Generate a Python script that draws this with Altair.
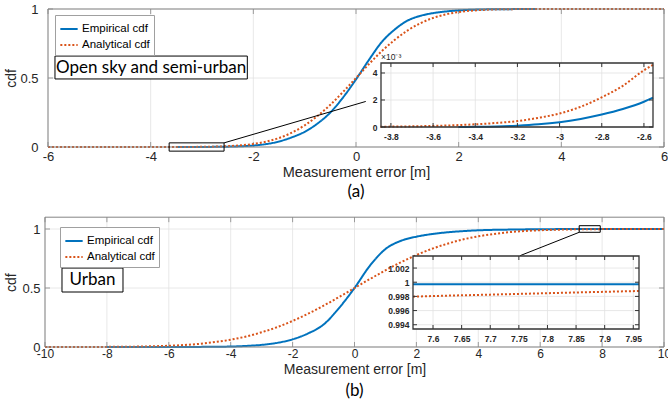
import altair as alt
import pandas as pd

SERIES = ["Empirical cdf", "Analytical cdf"]

# ---------------- (a) Open sky and semi-urban ----------------
a_emp_x = [-3.48, -3.3, -3.2, -3.0, -2.8, -2.6, -2.4, -2.2, -2.0, -1.75, -1.5, -1.25, -1.0,
           -0.75, -0.5, -0.25, 0.0, 0.25, 0.5, 0.75, 1.0, 1.25, 1.5, 1.75, 2.0, 2.5, 3.0, 3.5]
a_emp_y = [0.0, 0.00003, 0.0001, 0.00037, 0.00092, 0.00187, 0.0035, 0.006, 0.011, 0.021, 0.04,
           0.07, 0.11, 0.17, 0.25, 0.36, 0.49, 0.63, 0.76, 0.85, 0.915, 0.95, 0.97, 0.982, 0.99,
           0.997, 0.999, 1.0]
a_ana_x = [-6, -5, -4.5, -4, -3.5, -3, -2.5, -2.25, -2, -1.75, -1.5, -1.25, -1, -0.75, -0.5,
           -0.25, 0, 0.25, 0.5, 0.75, 1, 1.25, 1.5, 1.75, 2, 2.25, 2.5, 3, 3.5, 4, 5, 6]
a_ana_y = [0.0, 0.0, 0.000005, 0.00003, 0.0002, 0.0012, 0.006, 0.012, 0.022, 0.039, 0.065,
           0.104, 0.157, 0.225, 0.306, 0.4, 0.5, 0.6, 0.694, 0.775, 0.843, 0.896, 0.935, 0.961,
           0.978, 0.988, 0.994, 0.9988, 0.9998, 1.0, 1.0, 1.0]
# inset (values x 1e-3)
a_in_emp_x = [-3.48, -3.4, -3.3, -3.2, -3.1, -3.0, -2.9, -2.8, -2.7, -2.6, -2.557]
a_in_emp_y = [0.0, 0.01, 0.04, 0.1, 0.2, 0.36, 0.6, 0.92, 1.33, 1.87, 2.17]
a_in_ana_x = [-3.85, -3.8, -3.7, -3.6, -3.5, -3.4, -3.3, -3.2, -3.1, -3.0, -2.9, -2.8, -2.7,
              -2.6, -2.557]
a_in_ana_y = [0.02, 0.03, 0.05, 0.08, 0.13, 0.2, 0.3, 0.44, 0.68, 1.0, 1.5, 2.2, 3.05, 4.2, 4.6]

# ---------------- (b) Urban ----------------
b_emp_x = [-8, -6, -5, -4, -3.5, -3, -2.5, -2, -1.5, -1, -0.5, 0, 0.5, 1, 1.5, 2, 2.5, 3, 3.5,
           4, 5, 6, 7, 8, 10]
b_emp_y = [0.0, 0.0005, 0.001, 0.004, 0.009, 0.018, 0.035, 0.065, 0.115, 0.19, 0.33, 0.5, 0.69,
           0.83, 0.9, 0.935, 0.957, 0.972, 0.982, 0.989, 0.995, 0.998, 0.9995, 0.9997, 0.9997]
b_ana_x = [-10, -9, -8, -7, -6, -5.5, -5, -4.5, -4, -3.5, -3, -2.5, -2, -1.5, -1, -0.5, 0, 0.5,
           1, 1.5, 2, 2.5, 3, 3.5, 4, 4.5, 5, 5.5, 6, 7, 8, 9, 10]
b_ana_y = [0.0001, 0.0003, 0.001, 0.0035, 0.0105, 0.017, 0.027, 0.042, 0.062, 0.089, 0.125,
           0.168, 0.221, 0.282, 0.35, 0.424, 0.5, 0.576, 0.65, 0.718, 0.779, 0.832, 0.875,
           0.911, 0.938, 0.958, 0.973, 0.983, 0.9895, 0.9965, 0.999, 0.9997, 0.9999]
b_in_emp_x = [7.565, 7.96]
b_in_emp_y = [0.9997, 0.9997]
b_in_ana_x = [7.565, 7.6, 7.7, 7.8, 7.9, 7.96]
b_in_ana_y = [0.99796, 0.99805, 0.99825, 0.99845, 0.99865, 0.99876]

# tick values
a_xticks = [-6, -4, -2, 0, 2, 4, 6]
a_yticks = [0, 0.5, 1]
a_in_xticks = [-3.8, -3.6, -3.4, -3.2, -3.0, -2.8, -2.6]
a_in_yticks = [0, 2, 4]
b_xticks = [-10, -8, -6, -4, -2, 0, 2, 4, 6, 8, 10]
b_yticks = [0, 0.5, 1]
b_in_xticks = [7.6, 7.65, 7.7, 7.75, 7.8, 7.85, 7.9, 7.95]
b_in_yticks = [0.994, 0.996, 0.998, 1.0, 1.002]

# ---------------- style / layout ----------------
W, H = 668, 402
FONT = "Liberation Sans"
TFONT = "Lato"
BLUE = "#0072BD"
RED = "#D95319"
GRID = "#e2e2e2"
FRAME = "#858585"
INK = "#262626"


def one():
    return pd.DataFrame({"k": [0]})


def curves(ex, ey, ax, ay):
    return pd.concat([
        pd.DataFrame({"x": ex, "y": ey, "series": SERIES[0]}),
        pd.DataFrame({"x": ax, "y": ay, "series": SERIES[1]}),
    ], ignore_index=True)


def axis(**kw):
    base = dict(grid=False, domain=False, ticks=False, labelFont=FONT, labelColor=INK,
                titleFont=FONT, titleColor=INK, titleFontWeight="normal", zindex=1,
                labelFlush=False, labelOverlap=False, labelExpr="'' + datum.value")
    base.update(kw)
    return alt.Axis(**base)


def grid_and_ticks(P, color_tick, tick_px, tick_w):
    x0, x1 = P["xdom"]
    y0, y1 = P["ydom"]
    # tick length converted from pixels to data units through the panel's own ranges
    dy = tick_px * (y1 - y0) / abs(P["yrng"][0] - P["yrng"][1])
    dx = tick_px * (x1 - x0) / abs(P["xrng"][1] - P["xrng"][0])
    xt = pd.DataFrame({"v": P["xticks"]})
    yt = pd.DataFrame({"v": P["yticks"]})
    gx = alt.Chart(xt).mark_rule(color=GRID, strokeWidth=0.8).encode(
        x="v:Q", y=alt.datum(y0), y2=alt.datum(y1))
    gy = alt.Chart(yt).mark_rule(color=GRID, strokeWidth=0.8).encode(
        y="v:Q", x=alt.datum(x0), x2=alt.datum(x1))
    tb = alt.Chart(xt).mark_rule(color=color_tick, strokeWidth=tick_w).encode(
        x="v:Q", y=alt.datum(y0), y2=alt.datum(y0 + dy))
    tt = alt.Chart(xt).mark_rule(color=color_tick, strokeWidth=tick_w).encode(
        x="v:Q", y=alt.datum(y1), y2=alt.datum(y1 - dy))
    tl = alt.Chart(yt).mark_rule(color=color_tick, strokeWidth=tick_w).encode(
        y="v:Q", x=alt.datum(x0), x2=alt.datum(x0 + dx))
    tr = alt.Chart(yt).mark_rule(color=color_tick, strokeWidth=tick_w).encode(
        y="v:Q", x=alt.datum(x1), x2=alt.datum(x1 - dx))
    return [gx, gy], [tb, tt, tl, tr]


def main_panel(P):
    xs = alt.Scale(domain=P["xdom"], range=P["xrng"], nice=False, zero=False)
    ys = alt.Scale(domain=P["ydom"], range=P["yrng"], nice=False, zero=False)
    x0, x1 = P["xdom"]
    y0, y1 = P["ydom"]
    leg = alt.Legend(orient="none", legendX=P["leg"][0], legendY=P["leg"][1],
                     symbolType="stroke", symbolSize=300, symbolStrokeWidth=2,
                     labelFont=FONT, labelFontSize=11.5, labelColor="black",
                     strokeColor="#a0a0a0", fillColor="white", padding=4,
                     rowPadding=0, labelOffset=3, cornerRadius=0)
    grids, ticks = grid_and_ticks(P, FRAME, 5, 0.8)
    lines = alt.Chart(curves(*P["data"])).mark_line(strokeWidth=2, interpolate="monotone").encode(
        x=alt.X("x:Q", scale=xs,
                axis=axis(orient="bottom", offset=P["yrng"][0] - H, values=P["xticks"],
                          labelFontSize=P["xlabsize"], labelPadding=P["xlabpad"],
                          title="Measurement error [m]", titleFontSize=P["titlesize"],
                          titleY=P["titley"], titleBaseline="middle")),
        y=alt.Y("y:Q", scale=ys,
                axis=axis(orient="left", offset=-P["xrng"][0], values=P["yticks"],
                          labelFontSize=13, labelPadding=P["ylabpad"], title="cdf",
                          titleFontSize=14, titlePadding=P["ytitlepad"])),
        color=alt.Color("series:N", scale=alt.Scale(domain=SERIES, range=[BLUE, RED]),
                        legend=leg, title=None),
        strokeDash=alt.StrokeDash("series:N",
                                  scale=alt.Scale(domain=SERIES, range=[[1, 0], [2, 2]]),
                                  legend=leg, title=None),
    )
    frame = alt.Chart(one()).mark_rect(fillOpacity=0, stroke=FRAME, strokeWidth=1).encode(
        x=alt.datum(x0), x2=alt.datum(x1), y=alt.datum(y0), y2=alt.datum(y1))
    zr = P["zoom"]
    zoom = alt.Chart(one()).mark_rect(fillOpacity=0, stroke="black", strokeWidth=1).encode(
        x=alt.datum(zr[0]), x2=alt.datum(zr[1]), y=alt.datum(zr[2]), y2=alt.datum(zr[3]))
    cn = P["conn"]
    conn = alt.Chart(one()).mark_rule(color="black", strokeWidth=1).encode(
        x=alt.datum(cn[0]), y=alt.datum(cn[1]), x2=alt.datum(cn[2]), y2=alt.datum(cn[3]))
    bx = P["box"]
    tbox = alt.Chart(one()).mark_rect(fill="white", stroke="black", strokeWidth=1).encode(
        x=alt.datum(bx[0]), x2=alt.datum(bx[1]), y=alt.datum(bx[2]), y2=alt.datum(bx[3]))
    ttext = alt.Chart(one()).mark_text(font=TFONT, fontSize=17, color="black",
                                       align="center", baseline="middle").encode(
        x=alt.datum((bx[0] + bx[1]) / 2), y=alt.datum((bx[2] + bx[3]) / 2),
        text=alt.value(P["label"]))
    sub = alt.Chart(one()).mark_text(font=TFONT, fontSize=17, color="black",
                                     align="center", baseline="middle").encode(
        x=alt.datum(P["sub"][0]), y=alt.datum(P["sub"][1]), text=alt.value(P["subtext"]))
    return alt.layer(*grids, *ticks, lines, frame, zoom, conn, tbox, ttext, sub)


def inset_panel(P):
    xs = alt.Scale(domain=P["xdom"], range=P["xrng"], nice=False, zero=False)
    ys = alt.Scale(domain=P["ydom"], range=P["yrng"], nice=False, zero=False)
    x0, x1 = P["xdom"]
    y0, y1 = P["ydom"]
    bg = alt.Chart(one()).mark_rect(fill="white").encode(
        x=alt.datum(x0), x2=alt.datum(x1), y=alt.datum(y0), y2=alt.datum(y1))
    grids, ticks = grid_and_ticks(P, "#333333", 4, 1)
    ex, ey, ax, ay = P["data"]
    emp = alt.Chart(pd.DataFrame({"x": ex, "y": ey})).mark_line(
        color=BLUE, strokeWidth=2, interpolate="monotone").encode(
        x=alt.X("x:Q", scale=xs,
                axis=axis(orient="bottom", offset=P["yrng"][0] - H, values=P["xticks"],
                          labelFontSize=8.5, labelFontWeight="bold", labelPadding=P["xlabpad"],
                          title=None)),
        y=alt.Y("y:Q", scale=ys,
                axis=axis(orient="left", offset=-P["xrng"][0], values=P["yticks"],
                          labelFontSize=8.5, labelFontWeight="bold", labelPadding=4,
                          title=None)))
    ana = alt.Chart(pd.DataFrame({"x": ax, "y": ay})).mark_line(
        color=RED, strokeWidth=2, strokeDash=[2, 2], interpolate="monotone").encode(x="x:Q", y="y:Q")
    frame = alt.Chart(one()).mark_rect(fillOpacity=0, stroke="#333333", strokeWidth=1.3).encode(
        x=alt.datum(x0), x2=alt.datum(x1), y=alt.datum(y0), y2=alt.datum(y1))
    layers = [bg, *grids, emp, ana, *ticks, frame]
    if P.get("exp"):
        layers.append(alt.Chart(one()).mark_text(font=FONT, fontSize=8.5, color=INK,
                                                 align="left", baseline="bottom", dy=-1).encode(
            x=alt.datum(x0), y=alt.datum(y1), text=alt.value(P["exp"])))
    return alt.layer(*layers)


A_main = dict(xdom=[-6, 6], xrng=[48, 664], ydom=[0, 1], yrng=[147, 9],
              xticks=a_xticks, yticks=a_yticks, xlabpad=3, xlabsize=13, titley=25,
              titlesize=14.5, ylabpad=10, ytitlepad=1,
              data=(a_emp_x, a_emp_y, a_ana_x, a_ana_y), leg=(55, 15),
              zoom=(-3.64, -2.57, -0.03, 0.03), conn=(-2.57, 0.03, 0.19, 0.33),
              box=(-5.864, -2.117, 0.493, 0.659), label="Open sky and semi-urban",
              sub=(0, -0.325), subtext="(a)")
A_inset = dict(xdom=[-3.847, -2.557], xrng=[381, 653], ydom=[0, 4.74], yrng=[127, 63],
               xticks=a_in_xticks, yticks=a_in_yticks, xlabpad=5,
               data=(a_in_emp_x, a_in_emp_y, a_in_ana_x, a_in_ana_y), exp="×10⁻³")
B_main = dict(xdom=[-10, 10], xrng=[45, 664], ydom=[0, 1.1], yrng=[347, 217.2],
              xticks=b_xticks, yticks=b_yticks, xlabpad=1, xlabsize=12, titley=22,
              titlesize=14, ylabpad=5, ytitlepad=3,
              data=(b_emp_x, b_emp_y, b_ana_x, b_ana_y), leg=(60, 227),
              zoom=(7.26, 7.94, 0.972, 1.028), conn=(7.26, 0.972, 5.35, 0.774),
              box=(-9.451, -7.48, 0.466, 0.669), label="Urban",
              sub=(0, -0.375), subtext="(b)")
B_inset = dict(xdom=[7.565, 7.96], xrng=[413, 639], ydom=[0.9934, 1.0037], yrng=[329, 256],
               xticks=b_in_xticks, yticks=b_in_yticks, xlabpad=5,
               data=(b_in_emp_x, b_in_emp_y, b_in_ana_x, b_in_ana_y))

chart = alt.layer(
    main_panel(A_main), inset_panel(A_inset), main_panel(B_main), inset_panel(B_inset)
).resolve_scale(
    x="independent", y="independent", color="independent", strokeDash="independent"
).properties(
    width=W, height=H, autosize="none", padding=0, background="white"
).configure_view(stroke=None)

chart.save("out.html", embed_options={"renderer": "svg", "actions": False})
